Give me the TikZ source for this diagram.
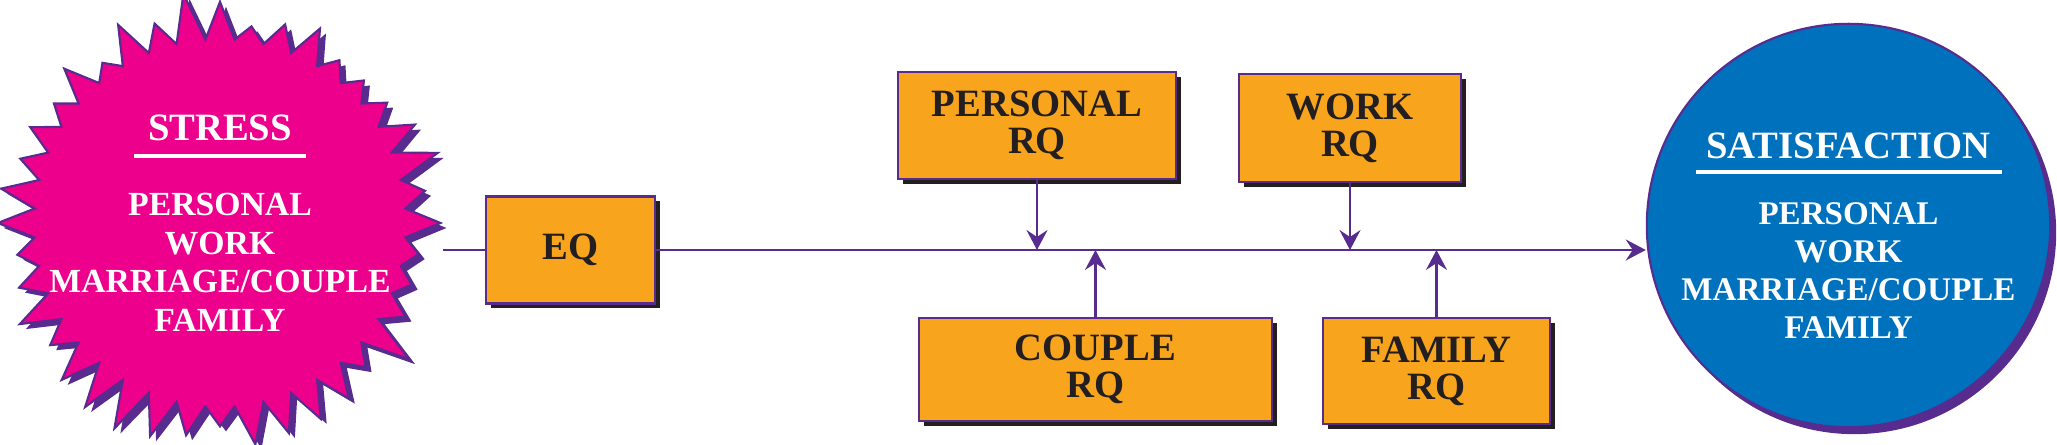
\documentclass[tikz,border=0pt]{standalone}
\usepackage{fontspec}
\setmainfont{Liberation Serif}
\usepackage{tikz}
\usetikzlibrary{arrows.meta,shapes.symbols,shadows}
\usepackage{xcolor}
\definecolor{burstpink}{HTML}{EC008C}
\definecolor{edgepurple}{HTML}{582C8E}
\definecolor{boxorange}{HTML}{F8A51D}
\definecolor{satblue}{HTML}{0071BC}
\definecolor{shadowdark}{HTML}{231F20}

\begin{document}
\begin{tikzpicture}[
    boxStyle/.style={
        rectangle, draw=edgepurple, fill=boxorange, line width=0.75pt,
        inner sep=0pt, align=center, text=shadowdark,
        font=\fontsize{11}{10.5}\selectfont\bfseries,
        drop shadow={shadow xshift=0.05cm, shadow yshift=-0.05cm, fill=shadowdark, opacity=1}
    },
    burstStyle/.style={
        starburst, starburst points=40, starburst point height=0.5cm, random starburst=11,
        minimum width=4.72cm, minimum height=4.68cm, inner xsep=-0.7cm, inner ysep=0pt,
        fill=burstpink, draw=edgepurple, line width=0.6pt,
        text=white, align=center, font=\fontsize{9.6}{11}\selectfont\bfseries,
        drop shadow={shadow xshift=0.06cm, shadow yshift=-0.05cm, fill=edgepurple, opacity=1}
    },
    circleStyle/.style={
        circle, minimum size=3.97cm, inner sep=0pt,
        fill=satblue, draw=edgepurple, line width=0.6pt,
        text=white, align=center, font=\fontsize{9.4}{10.8}\selectfont\bfseries,
        drop shadow={shadow xshift=0.06cm, shadow yshift=-0.07cm, fill=edgepurple, opacity=1}
    },
    lineStyle/.style={line width=0.75pt, draw=edgepurple},
    arrowStyle/.style={-{Stealth[length=0.2cm, width=0.21cm, inset=0.07cm]}, line width=0.75pt, draw=edgepurple}
]
    \useasboundingbox (0,0) rectangle (20.57,4.45);

    % Stress
    \node[burstStyle] (stress) at (2.2,2.22) {
        {\fontsize{11}{11}\selectfont STRESS}\\[-6pt]
        \rule{1.72cm}{0.04cm}\\[5.5pt]
        PERSONAL\\ WORK\\ MARRIAGE/COUPLE\\ FAMILY
    };

    % EQ and RQ boxes
    \node[boxStyle, minimum width=1.69cm, minimum height=1.07cm] (eq) at (5.705,1.95) {EQ};
    \node[boxStyle, minimum width=2.78cm, minimum height=1.07cm] (prq) at (10.37,3.195) {PERSONAL\\RQ};
    \node[boxStyle, minimum width=2.22cm, minimum height=1.08cm] (wrq) at (13.50,3.17) {WORK\\RQ};
    \node[boxStyle, minimum width=3.53cm, minimum height=1.03cm] (crq) at (10.955,0.755) {COUPLE\\RQ};
    \node[boxStyle, minimum width=2.27cm, minimum height=1.06cm] (frq) at (14.365,0.74) {FAMILY\\RQ};

    % Satisfaction
    \node[circleStyle] (sat) at (18.485,2.195) {
        {\fontsize{11}{11}\selectfont\rule{0pt}{13pt}SATISFACTION}\\[-6.3pt]
        \rule{3.06cm}{0.04cm}\\[3.7pt]
        PERSONAL\\ WORK\\ MARRIAGE/COUPLE\\ FAMILY
    };

    % Arrows
    \draw[lineStyle] (stress.east |- eq.west) -- (eq.west);
    \draw[arrowStyle] (eq.east) -- (eq.east -| sat.west);
    \draw[arrowStyle] (prq.south) -- (prq.south |- eq.east);
    \draw[arrowStyle] (wrq.south) -- (wrq.south |- eq.east);
    \draw[arrowStyle] (crq.north) -- (crq.north |- eq.east);
    \draw[arrowStyle] (frq.north) -- (frq.north |- eq.east);
\end{tikzpicture}
\end{document}
